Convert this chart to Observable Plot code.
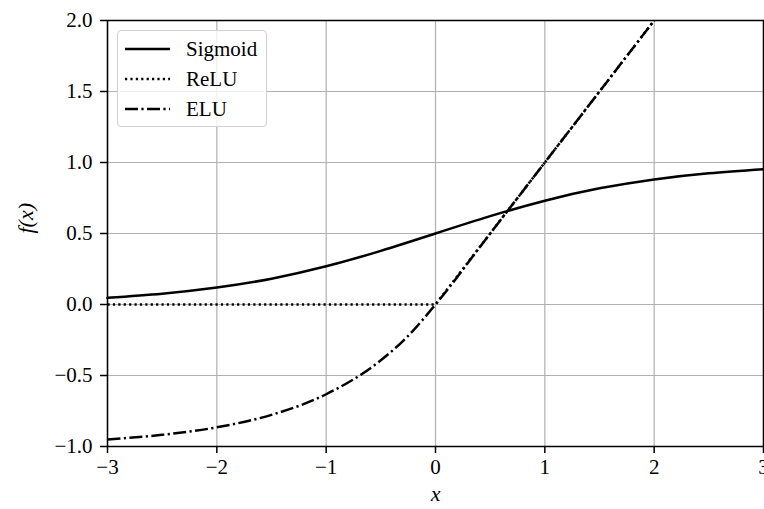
<!DOCTYPE html>
<html>
<head>
<meta charset="utf-8">
<script src="https://cdn.jsdelivr.net/npm/d3@7"></script>
<script src="https://cdn.jsdelivr.net/npm/@observablehq/plot@0.6"></script>
<style>
  html, body { margin: 0; padding: 0; background: white; overflow: hidden; }
  #wrap { position: relative; width: 764px; height: 509px; }
  #legend {
    position: absolute; left: 117px; top: 30px; width: 150px; height: 97px;
    box-sizing: border-box; border: 1px solid #d0d0d0; border-radius: 4px;
    background: rgba(255,255,255,0.8);
    font-family: "Liberation Serif", "DejaVu Serif", serif; font-size: 21px; color: black;
  }
  .row { position: absolute; left: 0; height: 30px; display: flex; align-items: center; }
  .row svg { margin-left: 7px; }
  .row span { margin-left: 16px; }
</style>
</head>
<body>
<div id="wrap"><div id="legend"></div></div>
<script>
// ---- data ----
const sigmoidX = [-3, -2.5, -2, -1.5, -1, -0.5, 0, 0.5, 1, 1.5, 2, 2.5, 3];
const sigmoidY = [0.047, 0.076, 0.119, 0.182, 0.269, 0.378, 0.5, 0.622, 0.731, 0.818, 0.881, 0.924, 0.953];

const reluX = [-3, 0, 2];
const reluY = [0, 0, 2];

const eluX = [-3, -2.5, -2, -1.5, -1, -0.5, -0.25, 0, 0.5, 1, 1.5, 2];
const eluY = [-0.950, -0.918, -0.865, -0.777, -0.632, -0.393, -0.221, 0, 0.5, 1, 1.5, 2];

const xTicks = [-3, -2, -1, 0, 1, 2, 3];
const yTicks = [-1.0, -0.5, 0.0, 0.5, 1.0, 1.5, 2.0];

const seriesNames = ["Sigmoid", "ReLU", "ELU"];
const dashes = ["none", "2.2,3.2", "13,3.4,2.2,3.4"];

const toRows = (xs, ys) => xs.map((x, i) => ({x, y: ys[i]}));
const sig = toRows(sigmoidX, sigmoidY);
const relu = toRows(reluX, reluY);
const elu = toRows(eluX, eluY);

const font = "Liberation Serif, DejaVu Serif, serif";
const lw = 2.5;

const chart = Plot.plot({
  width: 764,
  height: 509,
  marginLeft: 107,
  marginRight: 1,
  marginTop: 20,
  marginBottom: 63,
  style: {fontFamily: font, fontSize: "21px", background: "white", color: "black", overflow: "visible"},
  x: {domain: [-3, 3]},
  y: {domain: [-1, 2]},
  marks: [
    Plot.gridX(xTicks, {stroke: "#b0b0b0", strokeOpacity: 1, strokeWidth: 1.2}),
    Plot.gridY(yTicks, {stroke: "#b0b0b0", strokeOpacity: 1, strokeWidth: 1.2}),
    Plot.line(sig, {x: "x", y: "y", stroke: "black", strokeWidth: lw, curve: "natural"}),
    Plot.line(relu, {x: "x", y: "y", stroke: "black", strokeWidth: lw, strokeDasharray: dashes[1], strokeLinecap: "butt"}),
    Plot.line(elu, {x: "x", y: "y", stroke: "black", strokeWidth: lw, strokeDasharray: dashes[2], curve: "monotone-x", strokeLinecap: "butt"}),
    Plot.frame({stroke: "black", strokeWidth: 1.5}),
    Plot.axisX(xTicks, {tickFormat: d3.format("d"), tickSize: 7, tickPadding: 6, strokeWidth: 1.5, label: null, fontSize: 21}),
    Plot.axisY(yTicks, {tickFormat: d3.format(".1f"), tickSize: 7, tickPadding: 8, strokeWidth: 1.5, label: null, fontSize: 21}),
    Plot.text(["x"], {frameAnchor: "bottom", dy: 54, fontStyle: "italic", fontSize: 22, text: d => d}),
    Plot.text(["f(x)"], {frameAnchor: "left", dx: -82, rotate: -90, fontStyle: "italic", fontSize: 22, text: d => d})
  ]
});
document.getElementById("wrap").prepend(chart);

// legend (HTML overlay)
const legend = document.getElementById("legend");
seriesNames.forEach((name, i) => {
  const row = document.createElement("div");
  row.className = "row";
  row.style.top = (3 + i * 30) + "px";
  const svg = d3.create("svg").attr("width", 45).attr("height", 10);
  svg.append("line").attr("x1", 0).attr("x2", 45).attr("y1", 5).attr("y2", 5)
    .attr("stroke", "black").attr("stroke-width", lw)
    .attr("stroke-dasharray", dashes[i]);
  row.appendChild(svg.node());
  const span = document.createElement("span");
  span.textContent = name;
  row.appendChild(span);
  legend.appendChild(row);
});
</script>
</body>
</html>
